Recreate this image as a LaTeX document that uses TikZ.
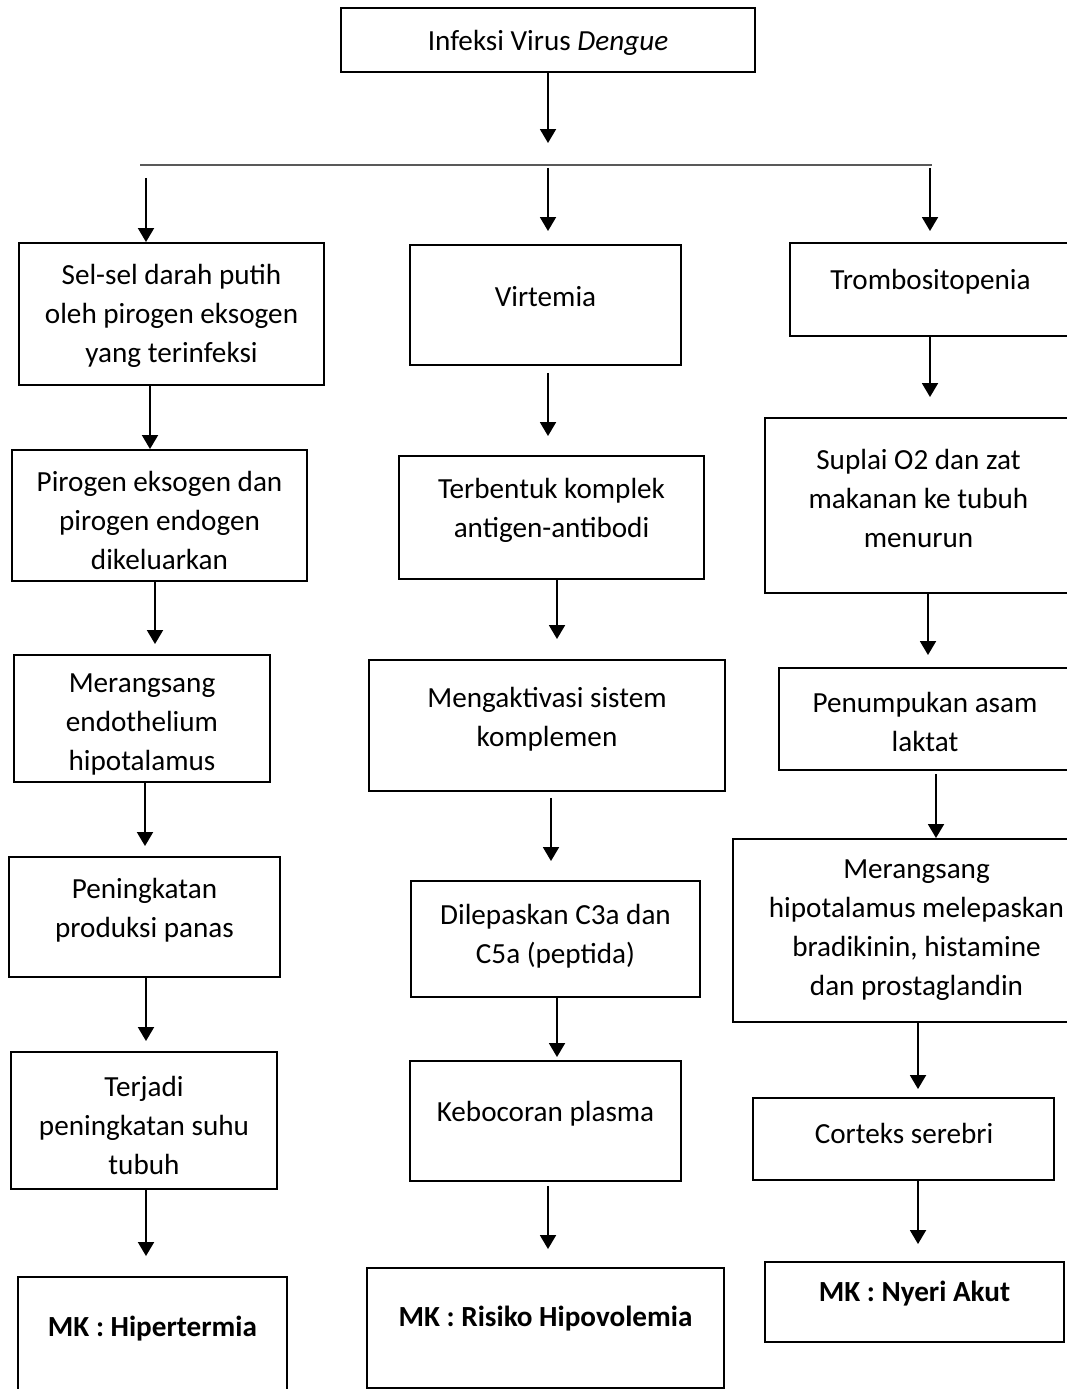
\documentclass[tikz,border=0pt]{standalone}
\usepackage{fontspec}
\setmainfont{Carlito}
\usetikzlibrary{arrows.meta,fit}
\definecolor{garisAbu}{HTML}{595959}

\begin{document}
\begin{tikzpicture}[x=0.02cm, y=-0.02cm,
    kotak/.style={draw, line width=1.1pt, inner sep=0pt},
    teks/.style={align=center, inner sep=0pt, yshift=-0.06cm, font=\fontsize{16.6}{22.2}\selectfont},
    tebal/.style={teks, font=\fontsize{16.6}{22.2}\selectfont\bfseries},
    panah/.style={line width=1.1pt, -{Triangle[length=0.28cm, width=0.32cm]}}]
  \path[use as bounding box, fill=white] (0,0) rectangle (1067,1389);

  % atas
  \node[kotak, fit={(341,8) (755,72)}] (infeksi) {};
  \node[teks] (infeksiT) at (548,40) {Infeksi Virus \textit{Dengue}};
  \coordinate (cabangKiri) at (140,165);
  \coordinate (cabangKanan) at (932,165);
  \coordinate (cabangTengah) at (548,165);
  \draw[garisAbu, line width=0.8pt] (cabangKiri) -- (cabangKanan);
  \draw[panah, shorten >=0.44cm] (548,0 |- infeksi.south) -- (cabangTengah);

  % kolom kiri
  \node[kotak, fit={(19,243) (324,385)}] (sel) {};
  \node[teks] (selT) at (171.5,313) {Sel-sel darah putih\\oleh pirogen eksogen\\yang terinfeksi};
  \node[kotak, fit={(12,450) (307,581)}] (pirogen) {};
  \node[teks] (pirogenT) at (159.5,517) {Pirogen eksogen dan\\pirogen endogen\\dikeluarkan};
  \node[kotak, fit={(14,655) (270,782)}] (endo) {};
  \node[teks] (endoT) at (142,721) {Merangsang\\endothelium\\hipotalamus};
  \node[kotak, fit={(9,857) (280,977)}] (panas) {};
  \node[teks] (panasT) at (144.5,907) {Peningkatan\\produksi panas};
  \node[kotak, fit={(11,1052) (277,1189)}] (suhu) {};
  \node[teks] (suhuT) at (144,1122) {Terjadi\\peningkatan suhu\\tubuh};
  \node[kotak, fit={(18,1277) (287,1400)}] (hiper) {};
  \node[tebal] (hiperT) at (152.5,1326) {MK : Hipertermia};

  % kolom tengah
  \node[kotak, fit={(410,245) (681,365)}] (virtemia) {};
  \node[teks] (virtemiaT) at (545.5,294) {Virtemia};
  \node[kotak, fit={(399,456) (704,579)}] (komplek) {};
  \node[teks] (komplekT) at (551.5,507) {Terbentuk komplek\\antigen-antibodi};
  \node[kotak, fit={(369,660) (725,791)}] (aktivasi) {};
  \node[teks] (aktivasiT) at (547,716) {Mengaktivasi sistem\\komplemen};
  \node[kotak, fit={(411,881) (700,997)}] (lepas) {};
  \node[teks] (lepasT) at (555.5,933) {Dilepaskan C3a dan\\C5a (peptida)};
  \node[kotak, fit={(410,1061) (681,1181)}] (bocor) {};
  \node[teks] (bocorT) at (545.5,1111) {Kebocoran plasma};
  \node[kotak, fit={(367,1268) (724,1388)}] (hipo) {};
  \node[tebal] (hipoT) at (545.5,1316) {MK : Risiko Hipovolemia};

  % kolom kanan
  \node[kotak, fit={(790,243) (1075,336)}] (trombo) {};
  \node[teks] (tromboT) at (930.5,279) {Trombositopenia};
  \node[kotak, fit={(765,418) (1075,593)}] (suplai) {};
  \node[teks] (suplaiT) at (918.5,495) {Suplai O2 dan zat\\makanan ke tubuh\\menurun};
  \node[kotak, fit={(779,668) (1075,770)}] (laktat) {};
  \node[teks] (laktatT) at (925,719) {Penumpukan asam\\laktat};
  \node[kotak, fit={(733,839) (1075,1022)}] (rangsang) {};
  \node[teks] (rangsangT) at (916.5,927) {Merangsang\\hipotalamus melepaskan\\bradikinin, histamine\\dan prostaglandin};
  \node[kotak, fit={(753,1098) (1054,1180)}] (korteks) {};
  \node[teks] (korteksT) at (904,1130) {Corteks serebri};
  \node[kotak, fit={(765,1262) (1064,1342)}] (nyeri) {};
  \node[tebal] (nyeriT) at (914.5,1291) {MK : Nyeri Akut};

  % panah cabang
  \draw[panah, shorten <=0.26cm] (146,0 |- cabangKiri) -- (146,0 |- sel.north);
  \draw[panah, shorten <=0.06cm, shorten >=0.26cm] (548,0 |- cabangTengah) -- (548,0 |- virtemia.north);
  \draw[panah, shorten <=0.06cm, shorten >=0.22cm] (930,0 |- cabangKanan) -- (930,0 |- trombo.north);

  % panah kiri
  \draw[panah] (150,0 |- sel.south) -- (150,0 |- pirogen.north);
  \draw[panah, shorten >=0.2cm] (155,0 |- pirogen.south) -- (155,0 |- endo.north);
  \draw[panah, shorten >=0.2cm] (145,0 |- endo.south) -- (145,0 |- panas.north);
  \draw[panah, shorten >=0.2cm] (146,0 |- panas.south) -- (146,0 |- suhu.north);
  \draw[panah, shorten >=0.4cm] (146,0 |- suhu.south) -- (146,0 |- hiper.north);

  % panah tengah
  \draw[panah, shorten <=0.14cm, shorten >=0.38cm] (548,0 |- virtemia.south) -- (548,0 |- komplek.north);
  \draw[panah, shorten >=0.4cm] (557,0 |- komplek.south) -- (557,0 |- aktivasi.north);
  \draw[panah, shorten <=0.12cm, shorten >=0.38cm] (551,0 |- aktivasi.south) -- (551,0 |- lepas.north);
  \draw[panah, shorten >=0.06cm] (557,0 |- lepas.south) -- (557,0 |- bocor.north);
  \draw[panah, shorten <=0.08cm, shorten >=0.36cm] (548,0 |- bocor.south) -- (548,0 |- hipo.north);

  % panah kanan
  \draw[panah, shorten >=0.4cm] (930,0 |- trombo.south) -- (930,0 |- suplai.north);
  \draw[panah, shorten >=0.24cm] (928,0 |- suplai.south) -- (928,0 |- laktat.north);
  \draw[panah, shorten <=0.06cm] (936,0 |- laktat.south) -- (936,0 |- rangsang.north);
  \draw[panah, shorten >=0.16cm] (918,0 |- rangsang.south) -- (918,0 |- korteks.north);
  \draw[panah, shorten >=0.34cm] (918,0 |- korteks.south) -- (918,0 |- nyeri.north);
\end{tikzpicture}
\end{document}
